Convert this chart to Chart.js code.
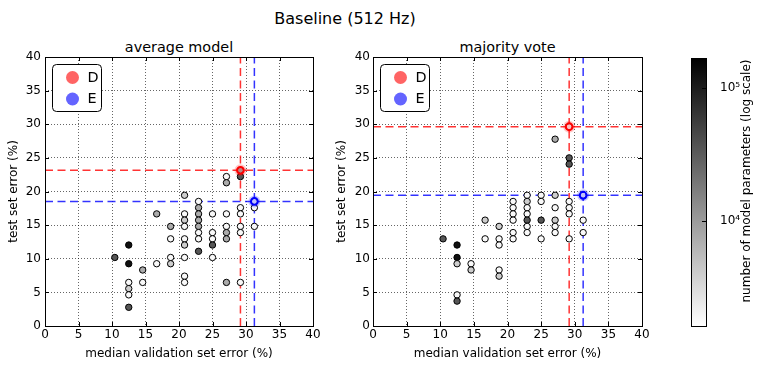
<!DOCTYPE html>
<html>
<head>
<meta charset="utf-8">
<script src="https://cdn.jsdelivr.net/npm/chart.js@4/dist/chart.umd.min.js"></script>
<style>
body { margin: 0; background: #fff; font-family: "DejaVu Sans", sans-serif; }
#wrap { position: relative; width: 761px; height: 369px; overflow: hidden; }
canvas { position: absolute; top: 0; }
.t { position: absolute; white-space: nowrap; transform: translate(-50%, -50%); color: #000; }
</style>
</head>
<body>
<div id="wrap">
  <div class="t" style="left:345px;top:18px;font-size:16px">Baseline (512 Hz)</div>
  <div class="t" style="left:179px;top:47px;font-size:14.4px">average model</div>
  <div class="t" style="left:507.5px;top:47px;font-size:14.4px">majority vote</div>
  <canvas id="avg" width="330" height="369" style="left:0"></canvas>
  <canvas id="vote" width="330" height="369" style="left:330px"></canvas>
  <canvas id="cbar" width="101" height="369" style="left:660px"></canvas>
</div>
<script>
// average model: median validation error (x), test error (y), number of parameters
const avgX = [10.42, 12.5, 12.5, 12.5, 12.5, 12.5, 12.5, 14.58, 14.58, 16.67, 16.67,
  18.75, 18.75, 18.75, 18.75,
  20.83, 20.83, 20.83, 20.83, 20.83, 20.83, 20.83, 20.83, 20.83,
  22.92, 22.92, 22.92, 22.92, 22.92, 22.92, 22.92, 22.92,
  25, 25, 25, 25, 25,
  27.08, 27.08, 27.08, 27.08, 27.08, 27.08, 27.08,
  29.17, 29.17, 29.17, 29.17, 29.17, 29.17, 29.17,
  31.25, 31.25, 31.25];
const avgY = [10.19, 12.04, 9.26, 6.48, 5.56, 4.63, 2.78, 8.33, 6.48, 16.67, 9.26,
  14.81, 12.96, 10.19, 9.26,
  19.44, 16.67, 15.74, 14.81, 12.96, 12.04, 10.19, 7.41, 6.48,
  18.52, 17.59, 16.67, 15.74, 14.81, 13.89, 12.96, 11.11,
  16.67, 13.89, 12.96, 12.04, 10.19,
  22.22, 21.30, 16.67, 14.81, 13.89, 12.96, 6.48,
  23.15, 22.22, 17.59, 16.67, 14.81, 13.89, 6.48,
  18.52, 17.59, 14.81];
const avgParams = [35000, 125000, 125000, 1800, 4000, 1800, 35000, 7500, 1800, 7500, 1800,
  7500, 1800, 1800, 4000,
  4000, 1800, 4000, 1800, 1800, 4000, 1800, 1800, 1800,
  1800, 7500, 7500, 7500, 7500, 1800, 1800, 35000,
  1800, 1800, 1800, 35000, 1800,
  1800, 7500, 1800, 1800, 7500, 7500, 7500,
  7500, 35000, 1800, 1800, 1800, 1800, 1800,
  1800, 1800, 1800];

// majority vote
const voteX = [10.42, 12.5, 12.5, 12.5, 12.5, 12.5, 14.58, 14.58, 16.67, 16.67,
  18.75, 18.75, 18.75, 18.75, 18.75,
  20.83, 20.83, 20.83, 20.83, 20.83, 20.83,
  22.92, 22.92, 22.92, 22.92, 22.92, 22.92, 22.92,
  25, 25, 25, 25,
  27.08, 27.08, 27.08, 27.08, 27.08, 27.08,
  29.17, 29.17, 29.17, 29.17, 29.17, 29.17, 29.17,
  31.25, 31.25, 31.25];
const voteY = [12.96, 12.04, 10.19, 9.26, 4.63, 3.70, 9.26, 8.33, 15.74, 12.96,
  14.81, 12.96, 12.04, 8.33, 7.41,
  18.52, 17.59, 16.67, 15.74, 13.89, 12.96,
  19.44, 18.52, 17.59, 16.67, 15.74, 14.81, 13.89,
  19.44, 18.52, 15.74, 12.96,
  27.78, 19.44, 17.59, 15.74, 14.81, 13.89,
  29.63, 25.00, 24.07, 18.52, 17.59, 16.67, 12.96,
  19.44, 15.74, 13.89];
const voteParams = [35000, 125000, 125000, 4000, 1800, 35000, 1800, 4000, 4000, 1800,
  4000, 1800, 1800, 1800, 4000,
  1800, 1800, 1800, 1800, 1800, 1800,
  1800, 4000, 1800, 1800, 35000, 1800, 1800,
  1800, 1800, 35000, 1800,
  7500, 4000, 1800, 4000, 1800, 1800,
  1800, 35000, 35000, 1800, 1800, 1800, 1800,
  1800, 1800, 1800];

// highlighted models D and E
const markerNames = ['D', 'E'];
const markerColors = ['#ff0000', '#0000ff'];
const legendColors = ['#ff6464', '#6464ff'];
const avgMarkerX = [29.17, 31.25];
const avgMarkerY = [23.15, 18.52];
const voteMarkerX = [29.17, 31.25];
const voteMarkerY = [29.63, 19.44];

const axisMin = 0, axisMax = 40, axisStep = 5;
const cbarMin = 1620, cbarMax = 168000;
const cbarTicks = [1e4, 1e5];
const cbarTickLabels = ['10\u2074', '10\u2075'];

const FONT = '"DejaVu Sans", sans-serif';
Chart.defaults.font.family = FONT;
Chart.defaults.color = '#000';

function shade(p) {
  const lo = Math.log10(cbarMin), hi = Math.log10(cbarMax);
  let t = (Math.log10(p) - lo) / (hi - lo);
  t = Math.min(1, Math.max(0, t));
  const v = Math.round(255 * (1 - t));
  return 'rgb(' + v + ',' + v + ',' + v + ')';
}

function alpha(hex, a) {
  const n = parseInt(hex.slice(1), 16);
  return 'rgba(' + (n >> 16) + ',' + ((n >> 8) & 255) + ',' + (n & 255) + ',' + a + ')';
}

// box around the axes + inward ticks on every side
const framePlugin = {
  id: 'frame',
  afterDatasetsDraw(chart, args, opts) {
    const { ctx, chartArea: a, scales } = chart;
    const len = 4;
    ctx.save();
    ctx.strokeStyle = '#000';
    ctx.lineWidth = 1;
    ctx.beginPath();
    if (opts.xTicks) {
      for (const t of scales.x.ticks) {
        const px = Math.round(scales.x.getPixelForValue(t.value)) + 0.5;
        ctx.moveTo(px, a.bottom); ctx.lineTo(px, a.bottom - len);
        ctx.moveTo(px, a.top); ctx.lineTo(px, a.top + len);
      }
    }
    for (const t of scales.y.ticks) {
      const py = Math.round(scales.y.getPixelForValue(t.value)) + 0.5;
      if (opts.leftTicks) { ctx.moveTo(a.left, py); ctx.lineTo(a.left + len, py); }
      ctx.moveTo(a.right, py); ctx.lineTo(a.right - len, py);
    }
    ctx.stroke();
    ctx.strokeRect(Math.round(a.left) + 0.5, Math.round(a.top) + 0.5,
      Math.round(a.right - a.left), Math.round(a.bottom - a.top));
    ctx.restore();
  }
};

// small legend box in the upper left corner of the axes
const boxLegend = {
  id: 'boxLegend',
  afterDatasetsDraw(chart) {
    const { ctx, chartArea: a } = chart;
    const x = a.left + 7.5, y = a.top + 7.5, w = 49, h = 47;
    ctx.save();
    ctx.beginPath();
    ctx.roundRect(x, y, w, h, 4);
    ctx.fillStyle = '#fff';
    ctx.fill();
    ctx.strokeStyle = '#000';
    ctx.lineWidth = 1;
    ctx.stroke();
    ctx.font = '14.4px ' + FONT;
    ctx.textBaseline = 'middle';
    markerNames.forEach((name, i) => {
      const cy = y + 13 + i * 21.5;
      ctx.beginPath();
      ctx.arc(x + 20, cy, 6.5, 0, Math.PI * 2);
      ctx.fillStyle = legendColors[i];
      ctx.fill();
      ctx.fillStyle = '#000';
      ctx.fillText(name, x + 35, cy + 0.5);
    });
    ctx.restore();
  }
};

function panel(id, xs, ys, params, mx, my, yTitlePad, yTickPad, rightPad, yWidth) {
  const pts = xs.map((x, i) => ({ x: x, y: ys[i] }));
  const datasets = [];
  markerNames.forEach((name, i) => {
    datasets.push({
      type: 'line', data: [{ x: axisMin, y: my[i] }, { x: axisMax, y: my[i] }],
      borderColor: alpha(markerColors[i], 0.8), borderWidth: 1.5, borderDash: [8, 4.5],
      pointRadius: 0, fill: false, order: 5
    });
    datasets.push({
      type: 'line', data: [{ x: mx[i], y: axisMin }, { x: mx[i], y: axisMax }],
      borderColor: alpha(markerColors[i], 0.8), borderWidth: 1.5, borderDash: [8, 4.5],
      pointRadius: 0, fill: false, order: 5
    });
  });
  datasets.push({
    data: pts, backgroundColor: params.map(shade), borderColor: '#000',
    borderWidth: 1, pointRadius: 3.2, order: 3
  });
  markerNames.forEach((name, i) => {
    datasets.push({
      data: [{ x: mx[i], y: my[i] }], backgroundColor: alpha(markerColors[i], 0.22),
      borderWidth: 0, pointRadius: 6, order: 2
    });
    datasets.push({
      data: [{ x: mx[i], y: my[i] }], backgroundColor: 'rgba(255,255,255,0)',
      borderColor: markerColors[i], borderWidth: 2, pointRadius: 3.4, order: 1
    });
  });

  const grid = { color: 'rgba(0,0,0,0.6)', lineWidth: 1, drawTicks: false };
  const border = { display: false, dash: [1, 2] };
  return new Chart(document.getElementById(id), {
    type: 'scatter',
    data: { datasets: datasets },
    options: {
      responsive: false, animation: false, events: [],
      layout: { padding: { top: 57, right: rightPad, left: 0, bottom: 0 } },
      plugins: { legend: { display: false }, tooltip: { enabled: false },
        frame: { xTicks: true, leftTicks: true } },
      scales: {
        x: {
          type: 'linear', min: axisMin, max: axisMax,
          ticks: { stepSize: axisStep, font: { size: 12 }, color: '#000', padding: 2, maxRotation: 0 },
          grid: grid, border: border,
          title: { display: true, text: 'median validation set error (%)', font: { size: 12 },
            color: '#000', padding: { top: 0, bottom: 8 } },
          afterFit(s) { s.height = 43; }
        },
        y: {
          type: 'linear', min: axisMin, max: axisMax,
          ticks: { stepSize: axisStep, font: { size: 12 }, color: '#000', padding: yTickPad },
          grid: grid, border: border,
          title: { display: true, text: 'test set error (%)', font: { size: 12 },
            color: '#000', padding: { top: yTitlePad, bottom: 0 } },
          afterFit(s) { s.width = yWidth; }
        }
      }
    },
    plugins: [framePlugin, boxLegend]
  });
}

panel('avg', avgX, avgY, avgParams, avgMarkerX, avgMarkerY, 7, 4, 17, 45);
panel('vote', voteX, voteY, voteParams, voteMarkerX, voteMarkerY, 5, 3, 18, 43);

// colour bar
const cbarLabel = {
  id: 'cbarLabel',
  afterDraw(chart) {
    const { ctx, chartArea: a } = chart;
    ctx.save();
    ctx.translate(87, 181);
    ctx.rotate(-Math.PI / 2);
    ctx.font = '12px ' + FONT;
    ctx.fillStyle = '#000';
    ctx.textAlign = 'center';
    ctx.textBaseline = 'middle';
    ctx.fillText('number of model parameters (log scale)', 0, 0);
    ctx.restore();
  }
};

new Chart(document.getElementById('cbar'), {
  type: 'bar',
  data: {
    labels: ['params'],
    datasets: [{
      data: [[cbarMin, cbarMax]],
      barPercentage: 1, categoryPercentage: 1, borderWidth: 0,
      backgroundColor(c) {
        const a = c.chart.chartArea;
        if (!a) return '#888';
        const g = c.chart.ctx.createLinearGradient(0, a.bottom, 0, a.top);
        g.addColorStop(0, '#ffffff');
        g.addColorStop(1, '#000000');
        return g;
      }
    }]
  },
  options: {
    responsive: false, animation: false, events: [],
    layout: { padding: { top: 58, bottom: 43, left: 31, right: 0 } },
    plugins: { legend: { display: false }, tooltip: { enabled: false },
      frame: { xTicks: false, leftTicks: false } },
    scales: {
      x: { display: false },
      y: {
        type: 'logarithmic', position: 'right', min: cbarMin, max: cbarMax,
        afterBuildTicks(s) { s.ticks = cbarTicks.map(v => ({ value: v })); },
        ticks: {
          font: { size: 12 }, color: '#000', padding: 6,
          callback(v) { return cbarTickLabels[cbarTicks.indexOf(v)]; }
        },
        grid: { display: false }, border: { display: false },
        afterFit(s) { s.width = 55; }
      }
    }
  },
  plugins: [framePlugin, cbarLabel]
});
</script>
</body>
</html>
